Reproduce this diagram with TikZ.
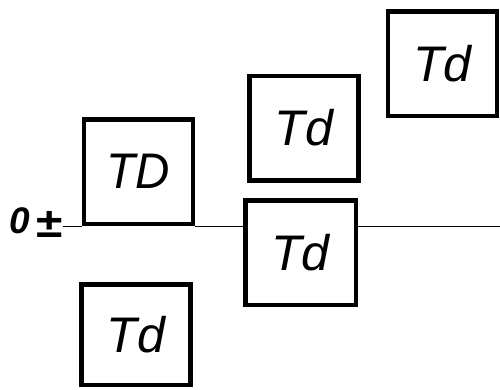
\documentclass[tikz,border=0pt]{standalone}
\usepackage{fontspec}
\setsansfont{Liberation Sans}
\begin{document}
\begin{tikzpicture}[x=1pt,y=-1pt,
  blk/.style={shape=rectangle,draw,line width=4.5pt,inner sep=0pt,outer sep=2.25pt,
    minimum width=109pt,minimum height=104.5pt,
    font=\sffamily\itshape\fontsize{50}{58}\selectfont},
  sgn/.style={inner sep=0pt,anchor=base,font=\sffamily\bfseries\fontsize{30}{34}\selectfont}]
\useasboundingbox (0,0) rectangle (500,389);
\node(D)  at (138.5,171.5)[blk]                        {\scalebox{0.95}[1]{TD}};
\node(d1) at (304,128)[blk]                            {Td};
\node(d2) at (442.5,63.5)[blk]                         {Td};
\node(d0) at (300.5,252.5)[blk,minimum width=110.5pt]  {Td};
\node(d3) at (136,334.5)[blk,minimum height=100.5pt]   {Td};
\node(zero) at (20,233)[inner sep=0pt,anchor=base,font=\sffamily\bfseries\itshape\fontsize{37}{42}\selectfont] {0};
\node(pm)   at (50,237)[sgn] {\scalebox{1.6}[1.4]{±}};
\coordinate(left)  at (63,226);
\coordinate(right) at (500,226);
\path [-,line width=1pt]
  (left)             edge  (D.south west)
  (D.south east)     edge  (D.south east -| d0.west)
  (d0.east |- right) edge  (right);
\end{tikzpicture}
\end{document}
